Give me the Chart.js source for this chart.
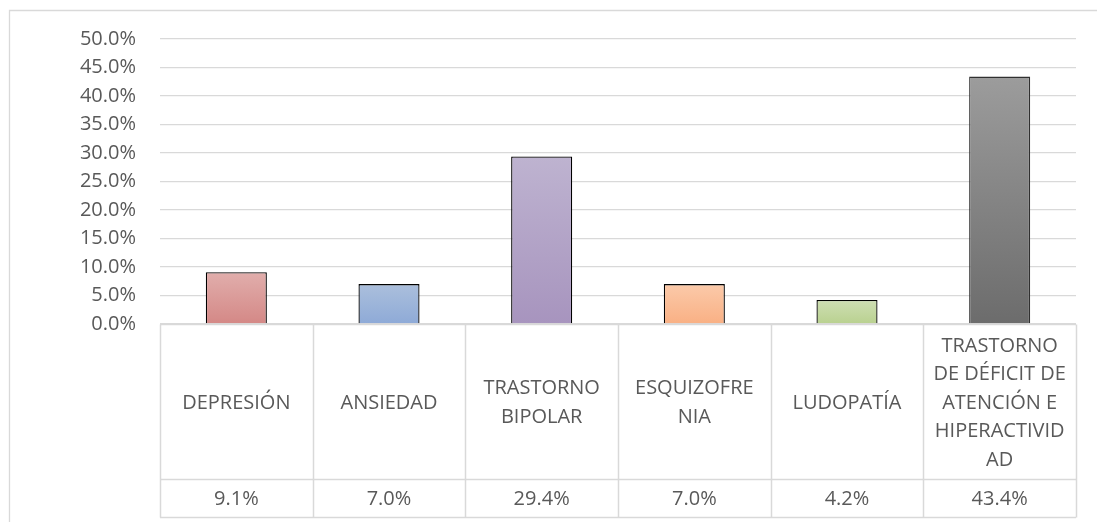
<!DOCTYPE html>
<html>
<head>
<meta charset="utf-8">
<script src="https://cdn.jsdelivr.net/npm/chart.js@4.4.1/dist/chart.umd.min.js"></script>
<style>
  html, body { margin: 0; padding: 0; background: #ffffff; }
  #wrap { width: 1097px; height: 522px; position: relative; }
</style>
</head>
<body>
<div id="wrap"><canvas id="c" width="1097" height="522"></canvas></div>
<script>
// ---- Data ----
const categories = [
  ["DEPRESIÓN"],
  ["ANSIEDAD"],
  ["TRASTORNO", "BIPOLAR"],
  ["ESQUIZOFRE", "NIA"],
  ["LUDOPATÍA"],
  ["TRASTORNO", "DE DÉFICIT DE", "ATENCIÓN E", "HIPERACTIVID", "AD"]
];
const values = [9.1, 7.0, 29.4, 7.0, 4.2, 43.4];
const valueLabels = ["9.1%", "7.0%", "29.4%", "7.0%", "4.2%", "43.4%"];
const yTickMin = 0;
const yTickMax = 50;
const yTickStep = 5;
const colorTop = ["#E1AEAC", "#ABBFDC", "#BEB3D0", "#FBCAAA", "#CEDEB3", "#9C9C9C"];
const colorBottom = ["#D48886", "#8EAAD7", "#A794BE", "#F9B084", "#B9D18F", "#6C6C6C"];

const FONT = "'Open Sans', 'Noto Sans', sans-serif";
const TEXT_COLOR = "#595959";
const LINE_COLOR = "#D9D9D9";

const tablePlugin = {
  id: 'dataTable',
  beforeDraw(chart) {
    const ctx = chart.ctx;
    ctx.save();
    ctx.strokeStyle = LINE_COLOR;
    ctx.lineWidth = 1.3;
    ctx.beginPath();
    ctx.moveTo(9.5, 522);
    ctx.lineTo(9.5, 10.5);
    ctx.lineTo(1097, 10.5);
    ctx.stroke();
    ctx.restore();
  },
  afterDraw(chart) {
    const { ctx, chartArea, scales } = chart;
    const x = scales.x;
    const n = categories.length;
    const w = (chartArea.right - chartArea.left) / n;
    const top = chartArea.bottom + 0.5;
    const mid = top + 155;
    const bot = top + 193;
    ctx.save();
    ctx.strokeStyle = LINE_COLOR;
    ctx.lineWidth = 1.5;
    ctx.beginPath();
    ctx.moveTo(chartArea.left, top); ctx.lineTo(chartArea.right, top);
    ctx.moveTo(chartArea.left, mid); ctx.lineTo(chartArea.right, mid);
    ctx.moveTo(chartArea.left, bot); ctx.lineTo(chartArea.right, bot);
    for (let i = 0; i <= n; i++) {
      const px = Math.round(chartArea.left + i * w) + 0.5;
      ctx.moveTo(px, top); ctx.lineTo(px, bot);
    }
    ctx.stroke();

    ctx.fillStyle = TEXT_COLOR;
    ctx.font = "20px " + FONT;
    ctx.textAlign = "center";
    ctx.textBaseline = "middle";
    const lh = 28.6;
    const labelCenter = (top + mid) / 2 + 1;
    for (let i = 0; i < n; i++) {
      const cx = x.getPixelForValue(i);
      const lines = categories[i];
      const start = labelCenter - (lines.length - 1) * lh / 2;
      lines.forEach((t, k) => ctx.fillText(t, cx, start + k * lh));
      ctx.fillText(valueLabels[i], cx, (mid + bot) / 2 + 1);
    }
    ctx.restore();
  }
};

function barGradient(context) {
  const chart = context.chart;
  const i = context.dataIndex;
  const ca = chart.chartArea;
  if (!ca || !chart.scales.y) return colorBottom[i];
  const yTop = chart.scales.y.getPixelForValue(values[i]);
  const g = chart.ctx.createLinearGradient(0, yTop, 0, ca.bottom);
  g.addColorStop(0, colorTop[i]);
  g.addColorStop(1, colorBottom[i]);
  return g;
}

new Chart(document.getElementById('c'), {
  type: 'bar',
  data: {
    labels: categories,
    datasets: [{
      data: values,
      backgroundColor: barGradient,
      borderColor: (ctx) => ctx.dataIndex === 5 ? "#303030" : "#000000",
      borderWidth: 1.3,
      borderSkipped: 'bottom',
      categoryPercentage: 1.0,
      barPercentage: 0.4
    }]
  },
  options: {
    responsive: false,
    animation: false,
    devicePixelRatio: 1,
    layout: { padding: { left: 9, top: 39, right: 21, bottom: 198 } },
    plugins: { legend: { display: false }, tooltip: { enabled: false } },
    scales: {
      x: { display: false, offset: true },
      y: {
        min: yTickMin,
        max: yTickMax,
        afterFit: (s) => { s.width = 151; },
        ticks: {
          stepSize: yTickStep,
          padding: 24,
          color: TEXT_COLOR,
          font: { family: FONT, size: 20 },
          callback: (v) => v.toFixed(1) + "%"
        },
        grid: { color: LINE_COLOR, lineWidth: 1.3, drawTicks: false },
        border: { display: false }
      }
    }
  },
  plugins: [tablePlugin]
});
</script>
</body>
</html>
